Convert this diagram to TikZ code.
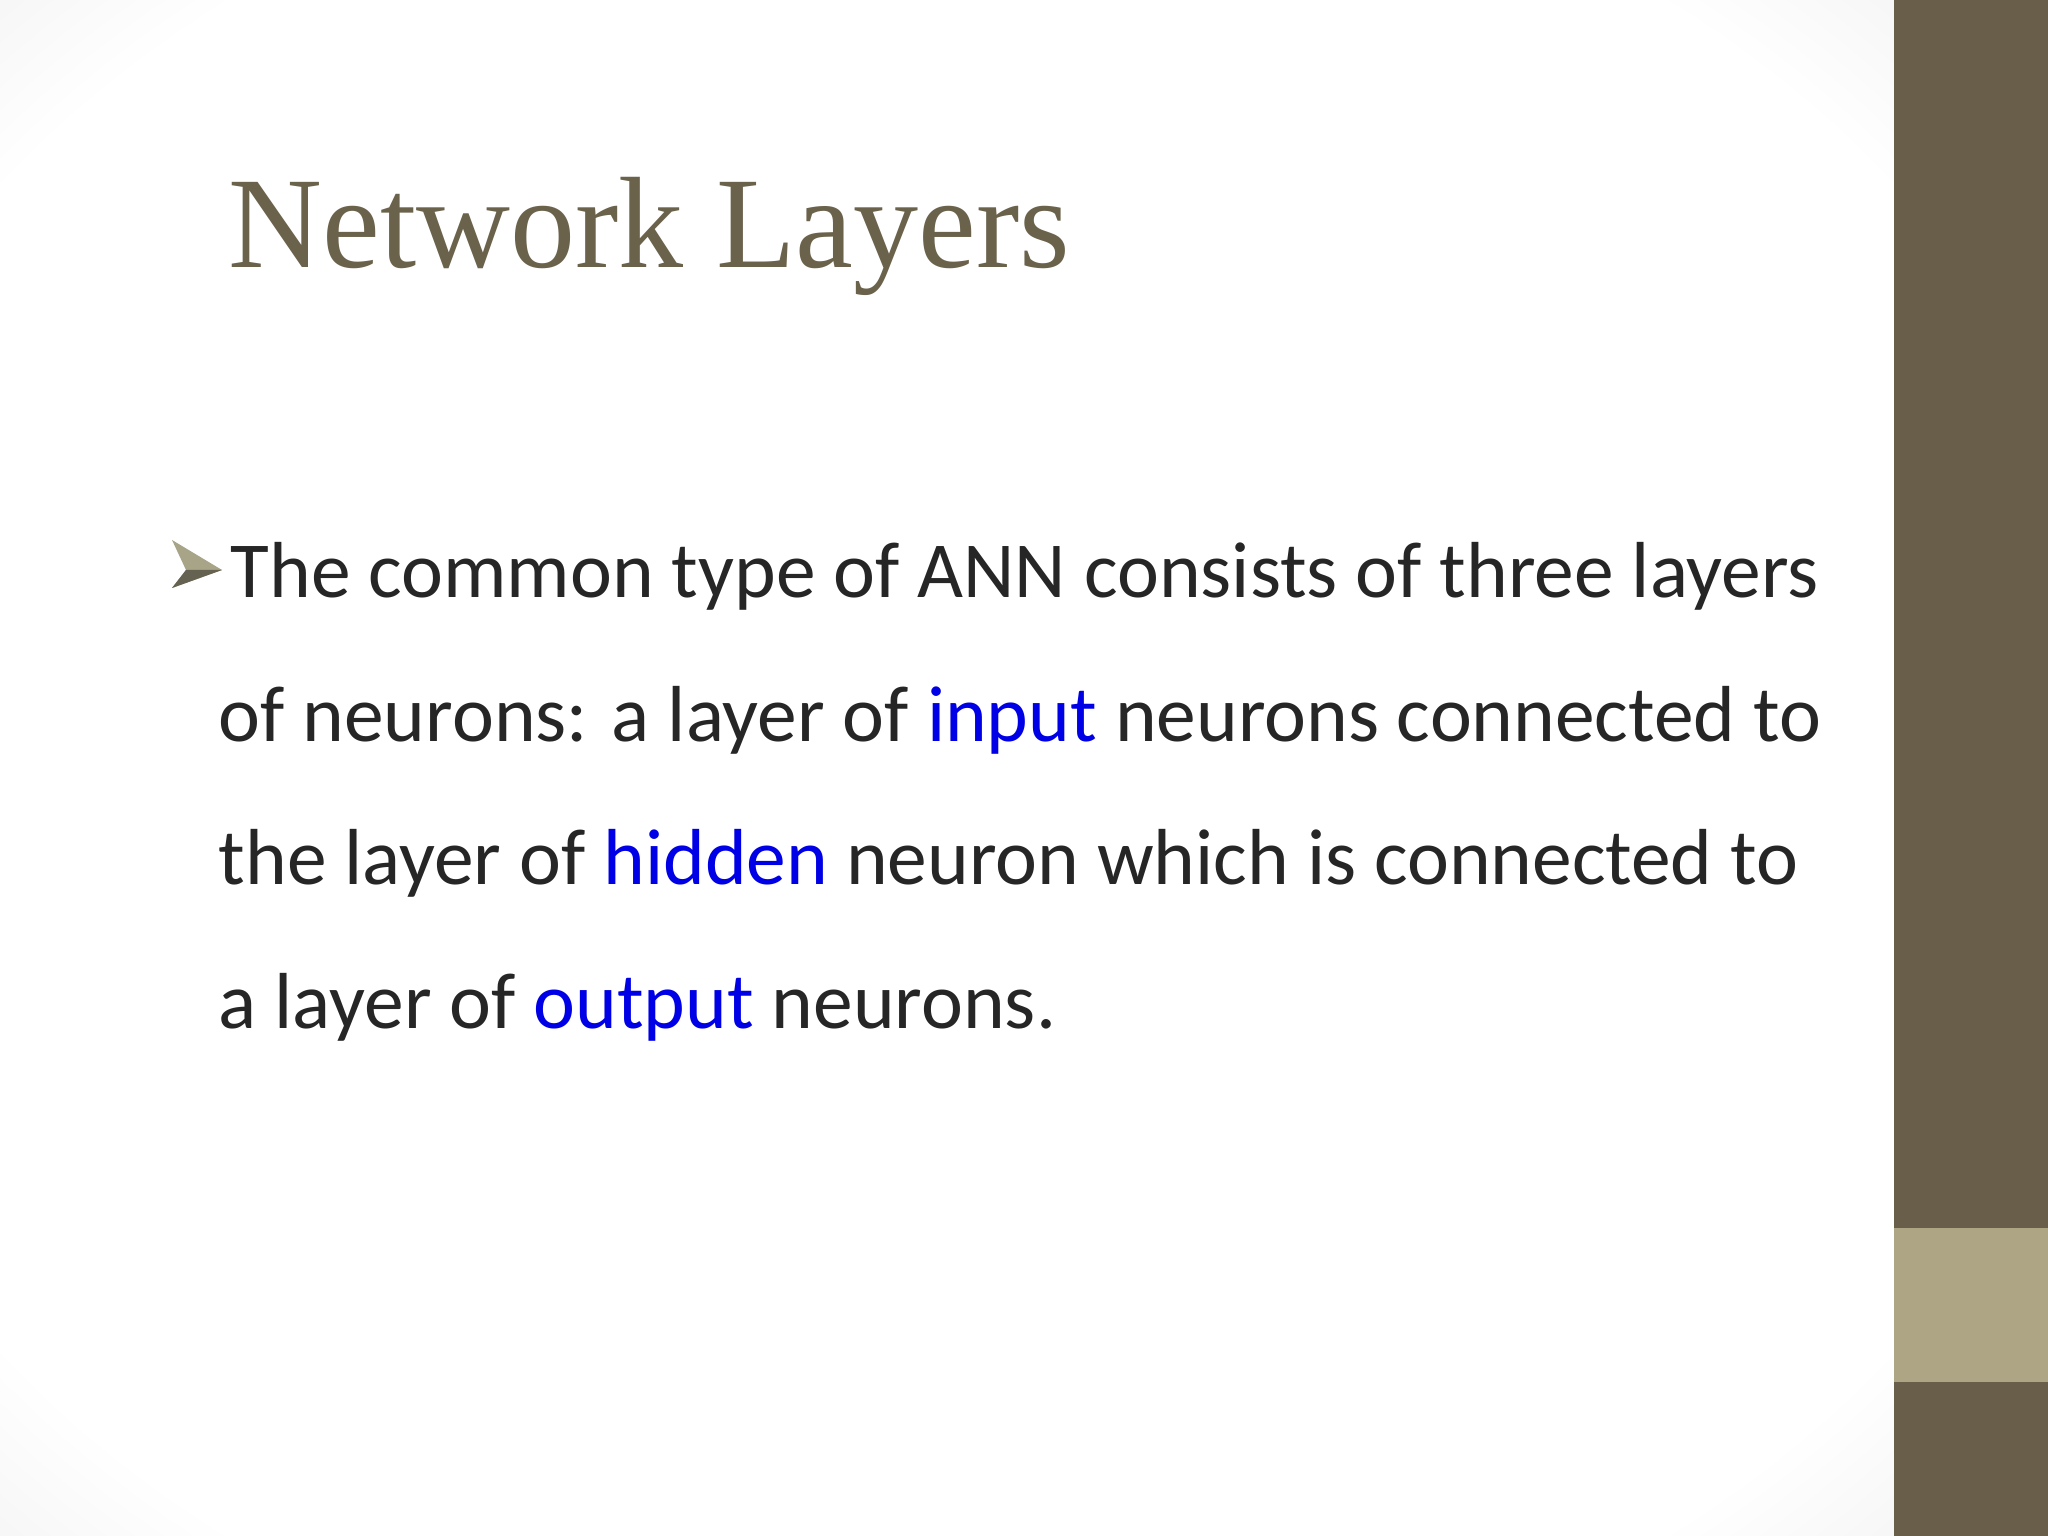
\documentclass[tikz,border=0pt]{standalone}
\usepackage{fontspec}
\setmainfont{Carlito}
\newfontfamily\titlefont{Liberation Serif}
\definecolor{olive}{HTML}{695E4A}
\definecolor{lolive}{HTML}{ADA584}
\definecolor{titlec}{HTML}{6B624B}
\definecolor{bodyc}{HTML}{262626}
\definecolor{bulc}{HTML}{A8A487}
\definecolor{hl}{HTML}{0000E6}
\pgfdeclareradialshading{vign}{\pgfpoint{0cm}{0cm}}{color(0cm)=(white); color(1.1cm)=(white); color(1.5cm)=(black!9)}
\begin{document}
\begin{tikzpicture}[x=1cm,y=-1cm,
  body/.style={anchor=base west,inner sep=0pt,font=\fontsize{22.6}{27}\selectfont,text=bodyc}]
\useasboundingbox (0,0) rectangle (20.48,15.36);
\shade[shading=vign] (0,0) rectangle (18.94,15.36);
\fill[olive] (18.94,0) rectangle (20.48,15.36);
\fill[lolive] (18.94,12.28) rectangle (20.48,13.82);
\node[anchor=base west,inner sep=0pt,text=titlec,font=\titlefont\fontsize{37}{44}\selectfont] (title) at (2.28,2.68) {Network Layers};
\fill[bulc] (1.72,5.88) -- (2.22,5.70) -- (1.72,5.40) -- (1.86,5.70) -- cycle;
\fill[bulc!60!black] (1.72,5.88) -- (2.22,5.70) -- (1.86,5.70) -- cycle;
\node[body] (l1) at (2.30,5.98) {The common type of ANN consists of three layers};
\node[body] (l2) at (2.18,7.42) {of neurons: a layer of \textcolor{hl}{input} neurons connected to};
\node[body] (l3) at (2.18,8.85) {the layer of \textcolor{hl}{hidden} neuron which is connected to};
\node[body] (l4) at (2.18,10.29) {a layer of \textcolor{hl}{output} neurons.};
\end{tikzpicture}
\end{document}
